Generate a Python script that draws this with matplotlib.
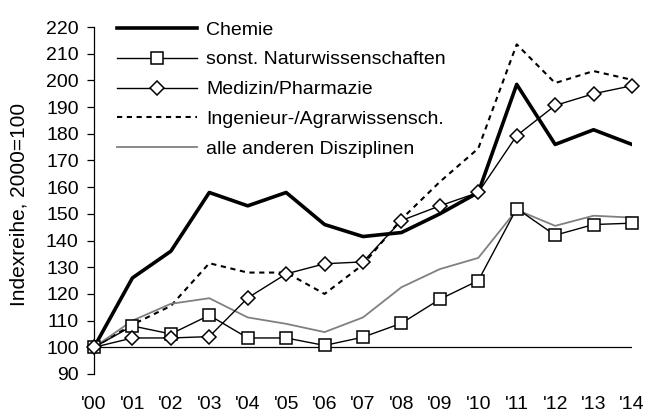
import matplotlib.pyplot as plt

plt.rcParams['font.family'] = ['Liberation Sans', 'DejaVu Sans']

years = ["'00", "'01", "'02", "'03", "'04", "'05", "'06", "'07",
         "'08", "'09", "'10", "'11", "'12", "'13", "'14"]

chemie = [100, 126, 136, 158, 153, 158, 146, 141.5, 143, 150, 158, 198.5, 176, 181.5, 176]
naturwiss = [100, 108, 105, 112, 103.5, 103.5, 100.7, 103.8, 109, 118, 125, 152, 142, 146, 146.5]
medizin = [100, 103.5, 103.5, 104, 118.5, 127.5, 131.3, 132, 147.5, 153, 158, 179.3, 190.6, 195, 198]
ingenieur = [100, 108.5, 115.5, 131.5, 128, 128, 120, 131, 148, 162, 174.5, 213.5, 199, 203.5, 200.2]
andere = [100, 110, 116.3, 118.4, 111.2, 108.8, 105.7, 111.2, 122.5, 129.3, 133.5, 151.5, 145.5, 149.3, 148.6]

x = list(range(len(years)))

fs = 14

fig = plt.figure(figsize=(6.46, 4.12), dpi=100)
ax = fig.add_axes([94/646, 1 - 374/412, (632 - 94)/646, (374 - 27)/412])

# baseline at 100
ax.plot([0, 14], [100, 100], color='black', lw=0.9, zorder=1)

ax.plot(x, chemie, color='black', lw=2.6, label='Chemie', zorder=3)
ax.plot(x, naturwiss, color='black', lw=1.0, marker='s', markersize=8,
        markerfacecolor='white', markeredgecolor='black', markeredgewidth=1.1,
        label='sonst. Naturwissenschaften', clip_on=False, zorder=4)
ax.plot(x, medizin, color='black', lw=1.0, marker='D', markersize=7.5,
        markerfacecolor='white', markeredgecolor='black', markeredgewidth=1.1,
        label='Medizin/Pharmazie', clip_on=False, zorder=4)
ax.plot(x, ingenieur, color='black', lw=1.5, linestyle=(0, (2.5, 2.2)),
        label='Ingenieur-/Agrarwissensch.', zorder=2)
ax.plot(x, andere, color='#808080', lw=1.3, label='alle anderen Disziplinen', zorder=2)

ax.set_xlim(0, 14)
ax.set_ylim(90, 220)
ax.set_yticks(range(90, 221, 10))
ax.set_xticks(x)
ax.set_xticklabels(years)
ax.tick_params(axis='x', length=0, pad=16, labelsize=fs)
ax.tick_params(axis='y', direction='out', length=5, width=0.9, pad=6, labelsize=fs)

for s in ['top', 'right', 'bottom']:
    ax.spines[s].set_visible(False)
ax.spines['left'].set_linewidth(0.9)

ax.set_ylabel('Indexreihe, 2000=100', fontsize=15)
ax.yaxis.set_label_coords(-0.121, (374 - 204) / (374 - 27))

ax.legend(loc='upper left', bbox_to_anchor=(117/646, 0.949), bbox_transform=fig.transFigure,
          frameon=False, fontsize=fs, handlelength=4.1, handletextpad=0.5,
          labelspacing=0.63, borderpad=0, borderaxespad=0, numpoints=1)

fig.savefig('out.png', dpi=100)
